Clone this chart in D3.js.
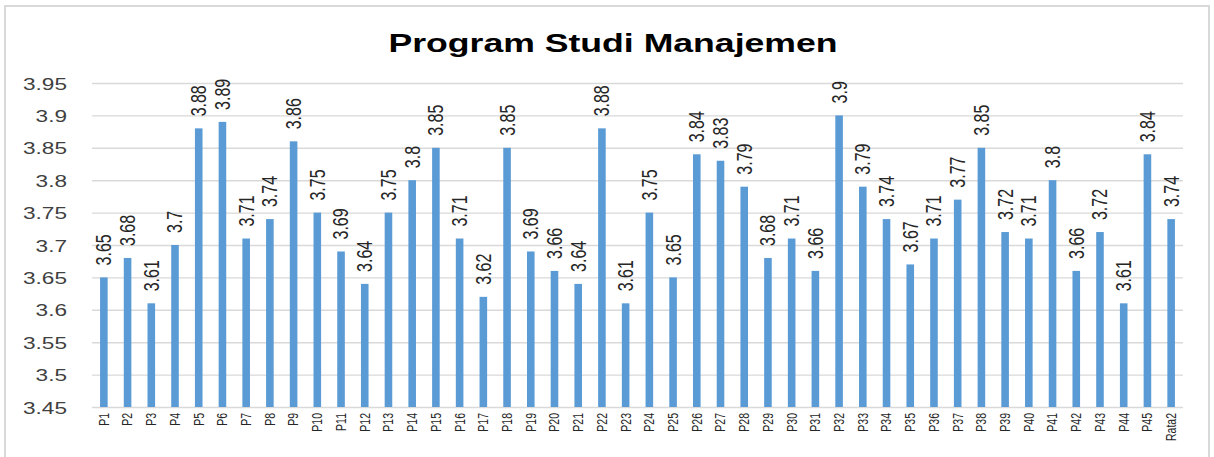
<!DOCTYPE html>
<html>
<head>
<meta charset="utf-8">
<script src="https://cdn.jsdelivr.net/npm/d3@7/dist/d3.min.js"></script>
<style>
  html, body { margin: 0; padding: 0; background: #fff; }
  svg { display: block; }
  text { font-family: "Liberation Sans", Arial, sans-serif; }
</style>
</head>
<body>
<svg id="chart" width="1214" height="457"></svg>
<script>
// Chart title
const chartTitle = "Program Studi Manajemen";

// Categories: items P1..P45 plus the overall average
const categories = [
  "P1","P2","P3","P4","P5","P6","P7","P8","P9","P10",
  "P11","P12","P13","P14","P15","P16","P17","P18","P19","P20",
  "P21","P22","P23","P24","P25","P26","P27","P28","P29","P30",
  "P31","P32","P33","P34","P35","P36","P37","P38","P39","P40",
  "P41","P42","P43","P44","P45","Rata2"
];

// Mean score per item
const scores = [
  3.65, 3.68, 3.61, 3.7, 3.88, 3.89, 3.71, 3.74, 3.86, 3.75,
  3.69, 3.64, 3.75, 3.8, 3.85, 3.71, 3.62, 3.85, 3.69, 3.66,
  3.64, 3.88, 3.61, 3.75, 3.65, 3.84, 3.83, 3.79, 3.68, 3.71,
  3.66, 3.9, 3.79, 3.74, 3.67, 3.71, 3.77, 3.85, 3.72, 3.71,
  3.8, 3.66, 3.72, 3.61, 3.84, 3.74
];

// Value axis ticks
const yTicks = [3.45, 3.5, 3.55, 3.6, 3.65, 3.7, 3.75, 3.8, 3.85, 3.9, 3.95];

const data = categories.map((c, i) => ({ cat: c, value: scores[i] }));

const svg = d3.select("#chart");
const W = 1214, H = 457;
const plot = { left: 92, right: 1183, top: 83, bottom: 407 };
const SX = 1.33; // horizontal text stretch

svg.append("rect").attr("width", W).attr("height", H).attr("fill", "#fff");

// Outer chart frame
svg.append("rect")
  .attr("x", 5).attr("y", 6)
  .attr("width", 1204).attr("height", 470)
  .attr("fill", "none")
  .attr("stroke", "#d9d9d9")
  .attr("stroke-width", 2);

const x = d3.scaleBand()
  .domain(categories)
  .range([plot.left, plot.right])
  .paddingInner(0.68)
  .paddingOuter(0.34);

const y = d3.scaleLinear()
  .domain([3.45, 3.95])
  .range([plot.bottom, plot.top]);

// Gridlines and value axis labels
const yAxis = d3.axisLeft(y).tickValues(yTicks)
  .tickSize(-(plot.right - plot.left))
  .tickFormat(d => d3.format("")(+d.toFixed(2)));

const gy = svg.append("g")
  .attr("transform", `translate(${plot.left},0)`)
  .call(yAxis);
gy.select(".domain").remove();
gy.selectAll(".tick line")
  .attr("stroke", "#d9d9d9")
  .attr("stroke-width", 1.4);
gy.selectAll(".tick text")
  .attr("x", null).attr("dy", null)
  .attr("text-anchor", "end")
  .attr("fill", "#404040")
  .attr("font-size", 17)
  .attr("transform", `translate(-25,6) scale(${SX},1)`);

// Bars
svg.append("g").selectAll("rect")
  .data(data)
  .join("rect")
  .attr("x", d => x(d.cat))
  .attr("width", x.bandwidth())
  .attr("y", d => y(d.value))
  .attr("height", d => y(3.45) - y(d.value))
  .attr("fill", "#5b9bd5");

// Category axis
const xAxis = d3.axisBottom(x).tickSize(0).tickPadding(0);
const gx = svg.append("g")
  .attr("transform", `translate(0,${plot.bottom})`)
  .call(xAxis);
gx.select(".domain").remove();
gx.selectAll(".tick text")
  .attr("x", null).attr("y", null).attr("dy", "0.35em")
  .attr("text-anchor", "end")
  .attr("fill", "#262626")
  .attr("font-size", 10.5)
  .attr("transform", `translate(0,6) scale(${SX},1) rotate(-90)`);

// Value labels above bars
svg.append("g").selectAll("text")
  .data(data)
  .join("text")
  .attr("transform", d => `translate(${x(d.cat) + x.bandwidth() / 2},${y(d.value) - 12}) scale(${SX},1) rotate(-90)`)
  .attr("dy", "0.35em")
  .attr("text-anchor", "start")
  .attr("fill", "#262626")
  .attr("font-size", 16)
  .text(d => d.value);

// Title
svg.append("text")
  .attr("transform", `translate(613,52) scale(1.37,1)`)
  .attr("text-anchor", "middle")
  .attr("font-weight", "bold")
  .attr("font-size", 26)
  .attr("fill", "#000")
  .text(chartTitle);
</script>
</body>
</html>
